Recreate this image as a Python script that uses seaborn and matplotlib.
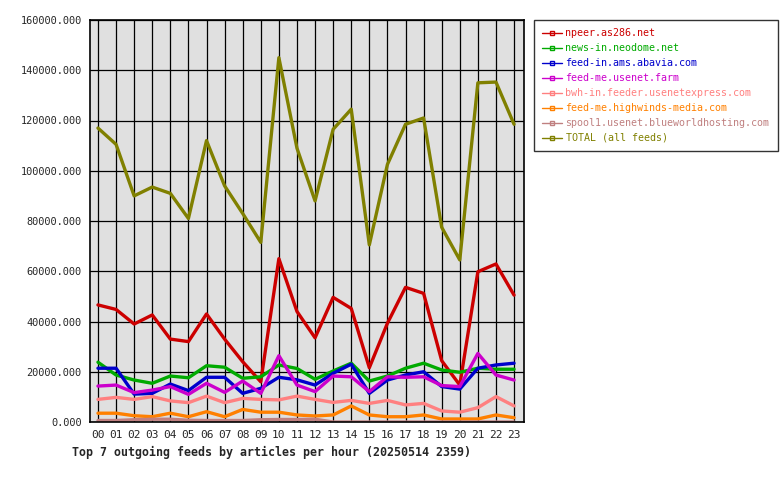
import matplotlib
matplotlib.use("Agg")
import matplotlib.pyplot as plt
import seaborn as sns
import pandas as pd
from matplotlib.lines import Line2D

hours = ["00", "01", "02", "03", "04", "05", "06", "07", "08", "09", "10", "11",
         "12", "13", "14", "15", "16", "17", "18", "19", "20", "21", "22", "23"]

feeds = ["npeer.as286.net", "news-in.neodome.net", "feed-in.ams.abavia.com",
         "feed-me.usenet.farm", "bwh-in.feeder.usenetexpress.com",
         "feed-me.highwinds-media.com", "spool1.usenet.blueworldhosting.com",
         "TOTAL (all feeds)"]

npeer = [46600, 44800, 39000, 42600, 33000, 32000, 43000, 33000, 24000, 16000, 65000, 44000,
         33500, 49600, 45200, 21600, 39300, 53600, 51200, 24400, 14700, 59800, 62900, 50500]
neodome = [23800, 18700, 16700, 15400, 18300, 17600, 22400, 21800, 17400, 18000, 22700, 21300,
           17000, 20300, 23400, 16300, 18300, 21400, 23400, 20700, 19800, 21400, 21000, 21000]
abavia = [21400, 21400, 11100, 11400, 15100, 12500, 17800, 17800, 11400, 13400, 17800, 16800,
          14700, 19400, 23000, 11400, 16700, 18700, 20000, 14100, 13100, 21400, 22700, 23400]
farm = [14300, 14700, 11700, 12700, 14100, 11000, 15400, 11800, 16300, 11400, 26400, 14700,
        12100, 18300, 18000, 12100, 18000, 17800, 18000, 14500, 14100, 27300, 18700, 16700]
usenetexpress = [9000, 9800, 9000, 10100, 8400, 7700, 10300, 7700, 9400, 9000, 8800, 10300,
                 9000, 7800, 8600, 7400, 8600, 6800, 7400, 4400, 3900, 5700, 10100, 6400]
highwinds = [3500, 3500, 2500, 2100, 3500, 2100, 4100, 2100, 5000, 3900, 3900, 2800,
             2400, 2800, 6400, 2800, 2100, 2100, 2800, 1200, 1200, 1200, 2800, 1700]
blueworld = [600, 600, 900, 1100, 1100, 700, 600, 600, 600, 900, 1000, 1000,
             1100, 0, 0, 0, 0, 0, 0, 0, 0, 0, 0, 0]
total = [117000, 110500, 90000, 93500, 91000, 81000, 112000, 94000, 83000, 71500, 145000, 109000,
         88000, 116500, 124500, 70500, 102500, 118500, 121000, 77500, 64500, 135000, 135300, 118500]

colors = ["#cc0000", "#00aa00", "#0000cc", "#cc00cc", "#ff8080", "#ff8000", "#c08080", "#808000"]

series = [npeer, neodome, abavia, farm, usenetexpress, highwinds, blueworld, total]
rows = []
for name, vals in zip(feeds, series):
    for h, v in enumerate(vals):
        rows.append({"hour": h, "articles": v, "feed": name})
df = pd.DataFrame(rows)

sns.set_style("white")
plt.rcParams["font.family"] = ["DejaVu Sans Mono"]

fig = plt.figure(figsize=(7.8, 4.8), dpi=100)
ax = fig.add_axes([90 / 780, 58 / 480, 434 / 780, 402 / 480])
ax.set_facecolor("#e0e0e0")

sns.lineplot(data=df, x="hour", y="articles", hue="feed", hue_order=feeds,
             palette=colors, linewidth=2.4, legend=False, ax=ax)

ax.set_xlim(-0.44, 23.55)
ax.set_ylim(0, 160000)
ax.set_xticks(range(24))
ax.set_xticklabels(hours, fontsize=8)
yt = list(range(0, 160001, 20000))
ax.set_yticks(yt)
ax.set_yticklabels(["%.3f" % v for v in yt], fontsize=7.4)
ax.tick_params(axis="x", length=0, pad=6)
ax.tick_params(axis="y", length=4, width=1, pad=2)
ax.grid(True, color="black", linewidth=0.9)
ax.set_axisbelow(True)
for s in ax.spines.values():
    s.set_color("black")
    s.set_linewidth(1.2)
ax.set_xlabel("")
ax.set_ylabel("")

handles = [Line2D([0], [0], color=c, linewidth=1, marker="s", markersize=2.5,
                  markerfacecolor="none", markeredgecolor=c) for c in colors]
leg = fig.legend(handles, feeds, loc="upper left",
                 bbox_to_anchor=(534 / 780, 1 - 20 / 480), fontsize=7.2,
                 frameon=True, fancybox=False, edgecolor="black",
                 handlelength=2.0, handletextpad=0.35, labelspacing=0.5,
                 borderpad=0.8, borderaxespad=0)
leg.get_frame().set_linewidth(1.0)
for t, c in zip(leg.get_texts(), colors):
    t.set_color(c)

fig.text(72 / 780, 1 - 452 / 480, "Top 7 outgoing feeds by articles per hour (20250514 2359)",
         fontsize=8.4, fontweight="bold", va="center", ha="left")

fig.savefig("out.png", dpi=100, facecolor="white")
